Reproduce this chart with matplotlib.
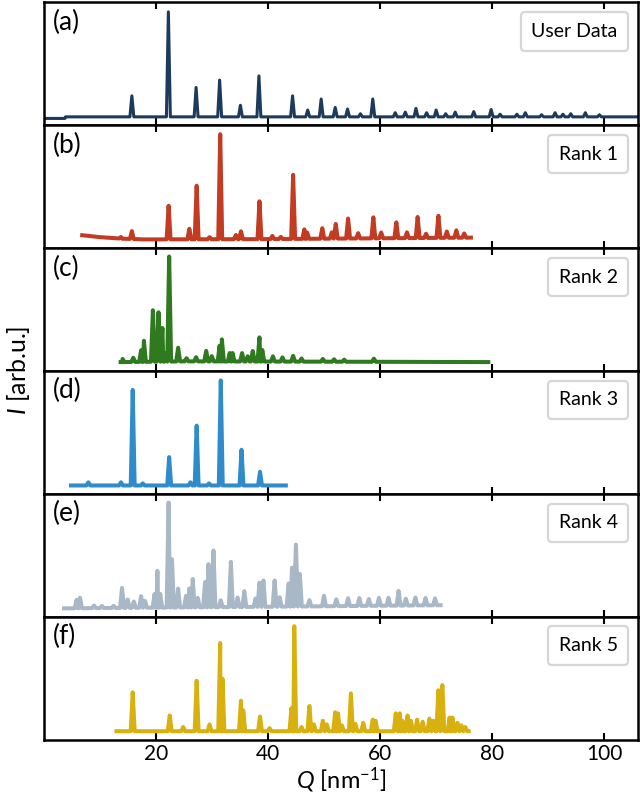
import numpy as np
import matplotlib
matplotlib.use("Agg")
import matplotlib.pyplot as plt

plt.rcParams['font.family'] = ['Lato', 'DejaVu Sans']
plt.rcParams['mathtext.fontset'] = 'custom'
plt.rcParams['mathtext.rm'] = 'Lato'
plt.rcParams['mathtext.it'] = 'Lato:italic'

# peak positions (Q, nm^-1) and relative heights
a_q = [15.75, 22.26, 27.2, 31.4, 35.1, 38.4, 44.4, 47.1, 49.5, 52.0, 54.2, 56.5, 58.7,
       62.7, 64.5, 66.4, 68.3, 70.0, 71.7, 73.4, 76.7, 79.8, 81.4, 84.4, 85.9, 88.8,
       91.2, 92.6, 94.0, 96.6, 99.1]
a_h = [20, 100, 28, 35, 11, 39, 20, 6.5, 17, 9, 7.5, 3, 17,
       4, 4.5, 8, 4, 6.5, 3, 4.5, 5, 7, 2.5, 2.5, 4, 2,
       4, 2.5, 3, 4, 2]
a_bg_q = [0.5, 3.8, 3.9, 106]
a_bg_h = [-1.5, -1.5, 0, 0]

b_q = [13.8, 15.75, 22.3, 26.0, 27.3, 29.6, 31.5, 34.3, 35.2, 38.5, 40.8, 42.3, 44.5,
       46.5, 47.0, 49.7, 51.4, 52.1, 54.3, 56.1, 58.8, 60.2, 62.9, 64.8, 66.7, 68.2,
       70.4, 71.9, 73.6, 75.0]
b_h = [1.5, 7.5, 32, 10, 51, 2, 100, 4, 7.5, 36, 3, 2, 61,
       9, 6, 10, 6, 14, 19, 5, 20, 5.5, 15, 5.5, 20, 4,
       21, 6, 7, 4]
b_bg_q = [6.9, 10, 14, 18, 40, 76.2]
b_bg_h = [4.3, 2.5, 1, 0.3, 0.6, 2]

c_q = [14.1, 16.0, 17.4, 17.9, 19.5, 20.5, 21.2, 21.7, 22.4, 24.0, 25.5, 27.2, 29.0,
       30.0, 31.4, 31.8, 33.2, 33.7, 35.4, 36.4, 37.3, 38.5, 39.0, 40.9, 42.6, 44.5,
       46.0, 49.8, 51.8, 53.6, 58.9]
c_h = [3, 4, 11, 20, 49, 47, 32, 8, 100, 13, 3, 4, 10,
       5, 15, 21, 8, 8, 8, 5, 10, 23, 11, 5, 4, 5.5,
       3, 2.6, 2.3, 2, 3]
c_bg_q = [14.0, 25, 79.3]
c_bg_h = [0.5, 1.2, 0.5]

d_q = [8.0, 13.8, 15.9, 17.7, 22.4, 26.2, 27.3, 29.5, 31.6, 35.3, 38.6]
d_h = [3, 3, 91, 2, 27, 3, 57, 2, 100, 34, 13]
d_bg_q = [4.9, 43.2]
d_bg_h = [0, 0]

e_q = [5.9, 6.5, 9.0, 10.4, 12.5, 14.0, 15.0, 16.1, 17.4, 18.1, 19.8, 20.3, 20.8,
       22.3, 22.9, 24.0, 25.4, 26.0, 26.6, 27.5, 28.8, 29.4, 30.3, 31.6, 33.4, 34.6,
       35.8, 37.8, 38.5, 39.2, 41.2, 42.1, 43.7, 44.3, 45.0, 45.7, 47.4, 50.0, 52.2,
       54.3, 56.3, 58.0, 59.8, 61.5, 63.3, 64.6, 66.3, 68.1, 69.8]
e_h = [8, 10, 2.5, 2, 2, 19, 8, 6, 11, 6.5, 13, 35, 13,
       100, 46, 18, 11, 18, 27, 9, 24, 41, 54, 6.5, 43, 9,
       15, 8, 23, 25, 25, 9, 22, 37, 59, 31, 6, 10, 6.5,
       7.5, 7.5, 6.5, 7.5, 7.5, 14, 6.5, 7.5, 7, 6.5]
e_bg_q = [3.65, 40, 70.8]
e_bg_h = [0, 1.5, 3]

f_q = [15.9, 22.5, 24.9, 27.3, 29.6, 31.5, 31.9, 35.2, 35.6, 38.6, 40.3, 44.2, 44.7,
       46.0, 47.4, 48.2, 49.8, 50.5, 52.0, 52.5, 53.2, 54.8, 55.6, 57.0, 58.7, 59.2,
       62.8, 63.5, 64.0, 64.9, 65.5, 66.6, 67.6, 68.8, 69.5, 70.4, 71.1, 72.4, 72.9,
       73.8, 74.5, 75.2]
f_h = [37, 15, 4, 48, 6.5, 84, 50, 29, 20, 14, 3, 22, 100,
       4, 24, 6.5, 10, 6.5, 18, 17, 5.5, 36, 7, 8, 11, 10,
       17, 17, 10, 15, 10, 11, 9, 12, 10, 39, 44, 13, 13,
       8, 5.5, 4]
f_bg_q = [13.0, 75.8]
f_bg_h = [0, 0]

labels = ['User Data', 'Rank 1', 'Rank 2', 'Rank 3', 'Rank 4', 'Rank 5']
tags = ['(a)', '(b)', '(c)', '(d)', '(e)', '(f)']
colors = ['#1c3a5b', '#c23b22', '#2f7a1f', '#2f8ccb', '#a9b8c7', '#d8b10e']
widths = [2.2, 2.9, 2.9, 2.9, 2.9, 2.9]

panels = [(a_q, a_h, a_bg_q, a_bg_h), (b_q, b_h, b_bg_q, b_bg_h),
          (c_q, c_h, c_bg_q, c_bg_h), (d_q, d_h, d_bg_q, d_bg_h),
          (e_q, e_h, e_bg_q, e_bg_h), (f_q, f_h, f_bg_q, f_bg_h)]


def trace(q, h, bgq, bgh, w=0.35):
    # each peak as a narrow spike sitting on the baseline
    xs = list(bgq)
    for p in q:
        xs += [p - w, p + w]
    pts = [(x, np.interp(x, bgq, bgh)) for x in xs]
    for p, v in zip(q, h):
        pts.append((p, np.interp(p, bgq, bgh) + v))
    pts.sort()
    x, y = zip(*pts)
    return np.array(x), np.array(y)


fig, axes = plt.subplots(6, 1, figsize=(6.4, 7.97), dpi=100, sharex=True)
fig.subplots_adjust(left=0.068, right=0.997, top=0.997, bottom=0.072, hspace=0)

for ax, (q, h, bq, bh), lab, tag, c, lw in zip(axes, panels, labels, tags, colors, widths):
    x, y = trace(q, h, bq, bh)
    ax.plot(x, y, color=c, lw=lw, label=lab, solid_joinstyle='round')
    ax.set_xlim(0, 106)
    ax.set_ylim(-8, 109)
    ax.set_yticks([])
    ax.set_xticks([20, 40, 60, 80, 100])
    ax.tick_params(axis='x', direction='in', top=True, length=5, width=1.5, labelsize=15)
    for s in ax.spines.values():
        s.set_linewidth(1.8)
    ax.text(0.016, 0.94, tag, transform=ax.transAxes, va='top', ha='left', fontsize=19)
    leg = ax.legend(loc='upper right', handlelength=0, handletextpad=0, fontsize=14,
                    borderaxespad=0.5, borderpad=0.55)
    for ln in leg.get_lines():
        ln.set_visible(False)
    leg.get_frame().set_linewidth(1.6)

axes[-1].set_xlabel(r'$Q$ [nm$^{-1}$]', fontsize=17, labelpad=1)
fig.text(0.008, 0.535, r'$I$ [arb.u.]', rotation=90, va='center', ha='left', fontsize=18)

fig.savefig('out.png', dpi=100)
